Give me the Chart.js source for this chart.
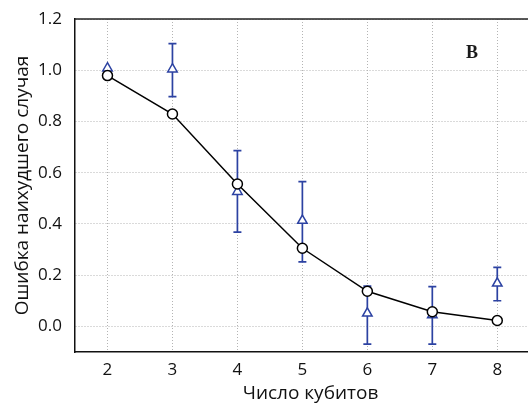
<!DOCTYPE html>
<html>
<head>
<meta charset="utf-8">
<script src="https://cdn.jsdelivr.net/npm/chart.js@4.4.1/dist/chart.umd.min.js"></script>
<style>
  html, body { margin: 0; padding: 0; background: #fff; overflow: hidden; }
  #wrap { width: 528px; height: 403px; overflow: hidden; }
</style>
</head>
<body>
<div id="wrap"><canvas id="chartQubits" width="553" height="403"></canvas></div>
<script>
// Число кубитов
const qubits = [2, 3, 4, 5, 6, 7, 8];
// Ошибка (кружки, сплошная линия)
const errCircle = [0.979, 0.829, 0.556, 0.305, 0.137, 0.057, 0.023];
// Ошибка (треугольники с погрешностями)
const errTriangle = [1.008, 1.004, 0.526, 0.413, 0.051, 0.044, 0.168];
const triLow = [1.008, 0.897, 0.368, 0.252, -0.069, -0.069, 0.100];
const triHigh = [1.008, 1.104, 0.686, 0.565, 0.157, 0.155, 0.230];
// Деления осей
const xTicks = [2, 3, 4, 5, 6, 7, 8];
const yTicks = [0, 0.2, 0.4, 0.6, 0.8, 1.0, 1.2];

const BLUE = '#2c42a2';
const FONT = "'Open Sans', 'Noto Sans', sans-serif";

// усы погрешностей, рисуются под маркерами
const errorBars = {
  id: 'errorBars',
  beforeDatasetsDraw(chart) {
    const { ctx, scales: { x, y } } = chart;
    ctx.save();
    ctx.strokeStyle = BLUE;
    ctx.lineWidth = 1.7;
    qubits.forEach((q, i) => {
      if (triHigh[i] - triLow[i] < 0.001) return;
      const px = x.getPixelForValue(q);
      const top = y.getPixelForValue(triHigh[i]);
      const bot = y.getPixelForValue(triLow[i]);
      ctx.beginPath();
      ctx.moveTo(px, top); ctx.lineTo(px, bot);
      ctx.moveTo(px - 4, top); ctx.lineTo(px + 4, top);
      ctx.moveTo(px - 4, bot); ctx.lineTo(px + 4, bot);
      ctx.stroke();
    });
    ctx.restore();
  }
};

// верхняя рамка и буква панели
const frame = {
  id: 'frame',
  afterDraw(chart) {
    const { ctx, chartArea: a, scales: { x, y } } = chart;
    ctx.save();
    ctx.strokeStyle = '#222';
    ctx.lineWidth = 1.5;
    ctx.beginPath();
    ctx.moveTo(a.left, a.top);
    ctx.lineTo(a.right, a.top);
    ctx.stroke();
    ctx.fillStyle = '#1a1a1a';
    ctx.font = "bold 18px 'Liberation Serif', 'DejaVu Serif', serif";
    ctx.textAlign = 'center';
    ctx.textBaseline = 'middle';
    ctx.fillText('В', x.getPixelForValue(7.61), y.getPixelForValue(1.064));
    ctx.restore();
  }
};

new Chart(document.getElementById('chartQubits'), {
  type: 'line',
  data: {
    datasets: [
      {
        label: 'circles',
        data: qubits.map((q, i) => ({ x: q, y: errCircle[i] })),
        borderColor: '#000',
        borderWidth: 1.5,
        pointStyle: 'circle',
        pointRadius: 5,
        pointBorderWidth: 1.5,
        pointBorderColor: '#000',
        pointBackgroundColor: '#fff',
        fill: false,
        tension: 0
      },
      {
        label: 'triangles',
        data: qubits.map((q, i) => ({ x: q, y: errTriangle[i] })),
        showLine: false,
        pointStyle: 'triangle',
        pointRadius: 5.5,
        pointBorderWidth: 1.5,
        pointBorderColor: BLUE,
        pointBackgroundColor: '#fff'
      }
    ]
  },
  options: {
    responsive: false,
    animation: false,
    devicePixelRatio: 1,
    layout: { padding: { top: 19, right: 0, left: 0, bottom: 0 } },
    plugins: { legend: { display: false }, tooltip: { enabled: false } },
    scales: {
      x: {
        type: 'linear',
        min: 1.5,
        max: 8.75,
        afterBuildTicks: s => { s.ticks = xTicks.map(v => ({ value: v })); },
        afterFit: s => { s.height = 51; s.paddingLeft = 0; s.paddingRight = 0; },
        grid: { color: '#b4b4b4', lineWidth: 1, drawTicks: false },
        border: { display: true, color: '#111', width: 1.5, dash: [1, 2] },
        ticks: { color: '#111', font: { family: FONT, size: 17 }, padding: 8 },
        title: {
          display: true,
          text: 'Число кубитов',
          color: '#111',
          font: { family: FONT, size: 19 },
          padding: { top: 0, bottom: -2 }
        }
      },
      y: {
        type: 'linear',
        min: -0.1,
        max: 1.2,
        afterBuildTicks: s => { s.ticks = yTicks.map(v => ({ value: v })); },
        afterFit: s => { s.width = 75; s.paddingTop = 0; s.paddingBottom = 0; },
        grid: { color: '#b4b4b4', lineWidth: 1, drawTicks: false },
        border: { display: true, color: '#111', width: 1.5, dash: [1, 2] },
        ticks: {
          color: '#111',
          font: { family: FONT, size: 17 },
          padding: 13,
          callback: v => Number(v).toFixed(1)
        },
        title: {
          display: true,
          text: 'Ошибка наихудшего случая',
          color: '#111',
          font: { family: FONT, size: 19 },
          padding: { top: 11, bottom: 0 }
        }
      }
    }
  },
  plugins: [errorBars, frame]
});
</script>
</body>
</html>
